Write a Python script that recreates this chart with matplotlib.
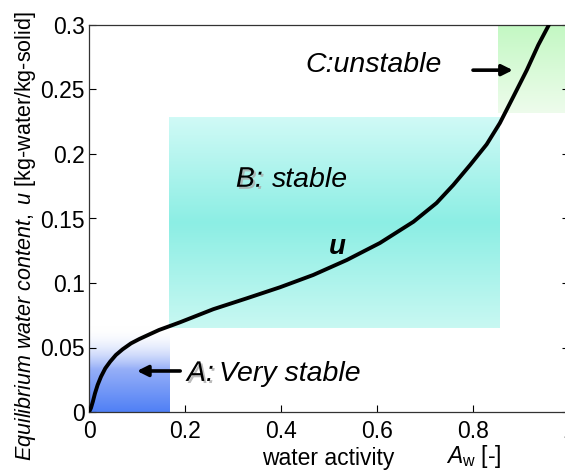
import numpy as np
import matplotlib
matplotlib.use("Agg")
from matplotlib import pyplot as plt
from matplotlib import patheffects as pe

plt.rcParams['font.family'] = ['Liberation Sans', 'DejaVu Sans']
plt.rcParams['mathtext.fontset'] = 'custom'
plt.rcParams['mathtext.rm'] = 'Liberation Sans'
plt.rcParams['mathtext.it'] = 'Liberation Sans:italic'

# isotherm
aw = [0, 0.004, 0.008, 0.0125, 0.018, 0.025, 0.034, 0.044, 0.056, 0.070, 0.0875,
      0.105, 0.126, 0.146, 0.174, 0.19, 0.259, 0.3285, 0.398, 0.467, 0.537, 0.606,
      0.676, 0.724, 0.759, 0.794, 0.8285, 0.856, 0.884, 0.912, 0.936, 0.958]
u = [0, 0.003, 0.008, 0.0145, 0.021, 0.0274, 0.0339, 0.039, 0.0442, 0.0486, 0.0532,
     0.0566, 0.0602, 0.0636, 0.0674, 0.0696, 0.0797, 0.0881, 0.0967, 0.1062, 0.1178, 0.131,
     0.1475, 0.162, 0.176, 0.1915, 0.2075, 0.224, 0.2444, 0.265, 0.2845, 0.30]

xticks = [0, 0.2, 0.4, 0.6, 0.8, 1.0]
xticklabels = ["0", "0.2", "0.4", "0.6", "0.8", "1"]
yticks = [0, 0.05, 0.1, 0.15, 0.2, 0.25, 0.3]
yticklabels = ["0", "0.05", "0.1", "0.15", "0.2", "0.25", "0.3"]

# region boxes: (x0, x1, y0, y1)
box_a = (0.0, 0.167, 0.0, 0.066)
box_b = (0.167, 0.856, 0.065, 0.228)
box_c = (0.852, 1.0, 0.232, 0.3)


def gradient(stops, n=200):
    # stops: list of (pos 0..1 from bottom, rgba)
    pos = np.linspace(0, 1, n)
    p = [s[0] for s in stops]
    cols = np.array([s[1] for s in stops], dtype=float) / 255.0
    img = np.stack([np.interp(pos, p, cols[:, k]) for k in range(4)], axis=1)
    return img[:, None, :]


fig = plt.figure(figsize=(5.65, 4.73), dpi=100)
ax = fig.add_axes([89 / 565, 61 / 473, 480 / 565, 387 / 473])

grad_a = gradient([(0, (80, 128, 245, 255)), (0.5, (150, 175, 248, 255)), (1, (255, 255, 255, 0))])
grad_b = gradient([(0, (200, 248, 242, 255)), (0.5, (140, 238, 228, 255)), (1, (208, 250, 246, 255))])
grad_c = gradient([(0, (238, 252, 236, 255)), (1, (195, 248, 195, 255))])
for g, b in [(grad_a, box_a), (grad_b, box_b), (grad_c, box_c)]:
    ax.imshow(g, extent=b, origin='lower', aspect='auto', interpolation='bilinear', zorder=0)

ax.plot(aw, u, color='black', lw=2.8, solid_capstyle='round', solid_joinstyle='round', zorder=3)

ax.set_xlim(0, 1)
ax.set_ylim(0, 0.3)
ax.set_xticks(xticks)
ax.set_xticklabels(xticklabels)
ax.set_yticks(yticks)
ax.set_yticklabels(yticklabels)
ax.tick_params(direction='in', length=5, width=0.8, labelsize=16.5, right=True, top=False)
ax.tick_params(axis='x', pad=6)
ax.tick_params(axis='y', pad=3)
for s in ax.spines.values():
    s.set_linewidth(0.9)
    s.set_color('#333333')

shadow = [pe.withSimplePatchShadow(offset=(1.5, -1.5), shadow_rgbFace='#aaaaaa', alpha=0.8)]

# annotations
ax.text(0.45, 0.269, "C:unstable", fontsize=20.5, style='italic', va='center', ha='left')
ax.annotate("", xy=(0.883, 0.265), xytext=(0.80, 0.265),
            arrowprops=dict(arrowstyle='-|>', lw=2.6, color='black', mutation_scale=16,
                            shrinkA=0, shrinkB=0))

ax.text(0.306, 0.18, "B:", fontsize=20.5, style='italic', va='center', ha='left',
        path_effects=shadow)
ax.text(0.381, 0.18, "stable", fontsize=20.5, style='italic', va='center', ha='left')

ax.text(0.204, 0.0295, "A:", fontsize=20.5, style='italic', va='center', ha='left',
        path_effects=shadow)
ax.text(0.27, 0.0295, "Very stable", fontsize=20.5, style='italic', va='center', ha='left')
ax.annotate("", xy=(0.1, 0.0318), xytext=(0.19, 0.0318),
            arrowprops=dict(arrowstyle='-|>', lw=2.6, color='black', mutation_scale=16,
                            shrinkA=0, shrinkB=0))

ax.text(0.5, 0.128, "u", fontsize=20, style='italic', weight='bold', va='center', ha='left')

# axis labels
fig.text(262 / 565, 3 / 473, "water activity", fontsize=16.5, ha='left', va='bottom')
fig.text(446 / 565, 3 / 473, r"$A_{\mathrm{w}}$ [-]", fontsize=16.5, ha='left', va='bottom')
fig.text(26 / 565, 0.5, r"$Equilibrium\ water\ content,\ u$ [kg-water/kg-solid]",
         fontsize=15.5, rotation=90, ha='center', va='center')

fig.savefig("out.png", dpi=100)
